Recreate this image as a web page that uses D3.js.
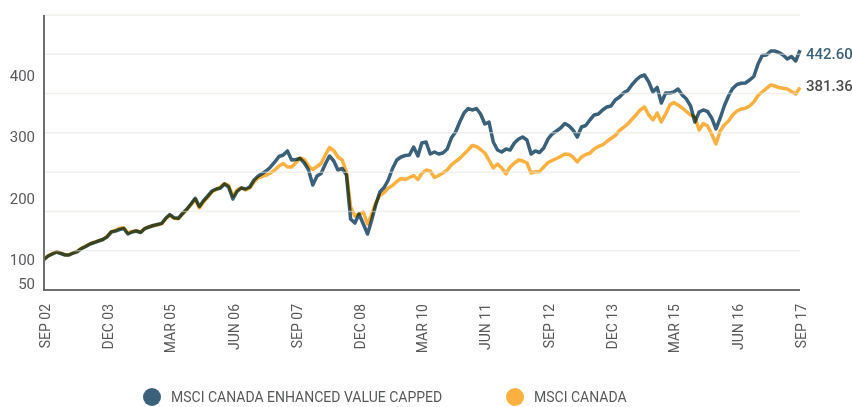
<!DOCTYPE html>
<html>
<head>
<meta charset="utf-8">
<script src="https://cdn.jsdelivr.net/npm/d3@7"></script>
<style>
  body { margin: 0; background: #fff; }
  svg { display: block; font-family: Roboto, "Noto Sans", sans-serif; }
</style>
</head>
<body>
<div class="chart"></div>
<script>
// monthly observations, Sep 2002 - Sep 2017
let months = [
  "2002-09","2002-10","2002-11","2002-12",
  "2003-01","2003-02","2003-03","2003-04","2003-05","2003-06","2003-07","2003-08","2003-09","2003-10","2003-11","2003-12",
  "2004-01","2004-02","2004-03","2004-04","2004-05","2004-06","2004-07","2004-08","2004-09","2004-10","2004-11","2004-12",
  "2005-01","2005-02","2005-03","2005-04","2005-05","2005-06","2005-07","2005-08","2005-09","2005-10","2005-11","2005-12",
  "2006-01","2006-02","2006-03","2006-04","2006-05","2006-06","2006-07","2006-08","2006-09","2006-10","2006-11","2006-12",
  "2007-01","2007-02","2007-03","2007-04","2007-05","2007-06","2007-07","2007-08","2007-09","2007-10","2007-11","2007-12",
  "2008-01","2008-02","2008-03","2008-04","2008-05","2008-06","2008-07","2008-08","2008-09","2008-10","2008-11","2008-12",
  "2009-01","2009-02","2009-03","2009-04","2009-05","2009-06","2009-07","2009-08","2009-09","2009-10","2009-11","2009-12",
  "2010-01","2010-02","2010-03","2010-04","2010-05","2010-06","2010-07","2010-08","2010-09","2010-10","2010-11","2010-12",
  "2011-01","2011-02","2011-03","2011-04","2011-05","2011-06","2011-07","2011-08","2011-09","2011-10","2011-11","2011-12",
  "2012-01","2012-02","2012-03","2012-04","2012-05","2012-06","2012-07","2012-08","2012-09","2012-10","2012-11","2012-12",
  "2013-01","2013-02","2013-03","2013-04","2013-05","2013-06","2013-07","2013-08","2013-09","2013-10","2013-11","2013-12",
  "2014-01","2014-02","2014-03","2014-04","2014-05","2014-06","2014-07","2014-08","2014-09","2014-10","2014-11","2014-12",
  "2015-01","2015-02","2015-03","2015-04","2015-05","2015-06","2015-07","2015-08","2015-09","2015-10","2015-11","2015-12",
  "2016-01","2016-02","2016-03","2016-04","2016-05","2016-06","2016-07","2016-08","2016-09","2016-10","2016-11","2016-12",
  "2017-01","2017-02","2017-03","2017-04","2017-05","2017-06","2017-07","2017-08","2017-09"
];

let enhancedValue = [
  100,105.6,108.9,112.2,109.7,107.3,107.3,110.5,113,117.9,121.2,125.3,127.7,130.2,132.6,136.7,
  144.9,146.5,149,150.6,141.6,144.9,146.5,144.1,150.6,153.1,155.5,157.2,159.1,167.8,173.5,168.1,
  167.3,175.2,182.1,190.7,200.1,186.6,196.5,203.8,212,215.3,216.4,223.5,218.5,198.9,211.2,216.9,
  215.3,218.5,230,236.5,240.6,245.5,251.3,259.5,268.5,270.9,277.5,262.7,263.5,265.2,257.8,246.4,
  221.8,236.5,240.6,256.2,269.3,261.1,246.4,248.8,238.2,166.2,159.6,174.4,158,141.6,162.9,189.1,
  210.4,217.7,230,248.8,262.7,267.6,270.1,270.9,284,269.3,290.5,292.2,272.6,275.8,272.6,274.2,
  280.7,298.7,308.5,324.9,339.6,346.9,344.6,346.9,338,321.6,324.9,292.2,279.1,275.8,280.7,279.1,
  290.5,297.1,300.4,295.5,272.6,277.5,275,282.4,297.1,305.3,310.2,315.1,322.5,318.4,311.8,300.4,
  316.7,319.2,328.2,336.4,338,344.6,349.5,351.1,360.9,365.8,372.4,376.5,385.5,393.6,399.4,401.8,
  390.4,374,381.4,356,372.4,372.4,374,378.9,369.1,362.5,351.1,324.9,341.3,344.6,342.1,331.5,
  313.5,331.5,351.1,367.5,379.8,386.3,388.3,388.7,393.6,399.4,419.8,433.7,434.5,441.1,441.1,438.6,
  434.5,428,432.1,424.7,442.6
];

let msciCanada = [
  100,105.8,109.5,112.6,110.3,107.6,107.4,110.8,113.4,118.6,122.1,125.6,128.3,130.5,132.4,137.5,
  145.2,147.6,150.8,151.9,143.3,145.8,147.1,144.6,150.9,153.4,155.2,156.8,158.4,166.9,172.6,167.2,
  166.5,174.6,181,189.6,198.4,184.2,194.3,202.1,210.8,214.6,218.2,224.1,221.3,203.2,213.4,217.4,
  213.6,216.9,226.7,233.3,235.8,238.2,241.5,246.4,252.9,257,251.3,251.3,258.6,266,263.5,252.9,
  247.2,252.1,257,270.9,283.2,278.3,267.6,262.7,243.1,185.8,171.1,174.4,177.6,158,172.7,192.4,
  204.6,209.5,216.9,221,227.5,232.5,230.8,234.1,237.4,230.8,240.6,246.4,244.7,234.1,237.4,241.5,
  246.4,254.6,260.3,265.2,272.6,279.1,286.5,284.8,279.9,274.2,262.7,249.6,256.2,249.6,239.8,251.3,
  257.8,262.7,261.1,257.8,241.5,243.6,243.6,251.3,258.6,261.9,265.2,268.5,272.6,271.7,267.6,259.5,
  267.6,271.7,273.7,280.7,284.8,287.3,293,297.9,302.8,311,315.9,321.6,329,336.4,344.6,349.5,
  336.4,328.2,339.6,324.9,338,352.7,356.8,352.7,347.8,342.1,336.4,333.1,311.8,322.5,318.4,305.3,
  288.9,310.2,320,326.6,336.4,342.9,346.2,347.3,351.1,357.6,368.3,374,379.8,385.5,383.8,381.4,
  380.1,378.9,374.8,370.7,381.36
];

let seriesNames = ["MSCI CANADA ENHANCED VALUE CAPPED", "MSCI CANADA"];
let endLabels = ["442.60", "381.36"];

let tickMonths = ["2002-09","2003-12","2005-03","2006-06","2007-09","2008-12","2010-03","2011-06","2012-09","2013-12","2015-03","2016-06","2017-09"];
let tickLabels = ["SEP 02","DEC 03","MAR 05","JUN 06","SEP 07","DEC 08","MAR 10","JUN 11","SEP 12","DEC 13","MAR 15","JUN 16","SEP 17"];
let yTicks = [50, 100, 200, 300, 400];

let width = 852,
  height = 407,
  plotLeft = 44,
  plotRight = 800,
  plotTop = 15,
  plotBottom = 290;

let colors = ["#3a6179", "#fbb040"],
  labelColors = ["#3a6179", "#4d4d4f"],
  labelShift = [4, -2],
  textColor = "#58595b";

let parseMonth = d3.timeParse("%Y-%m");
let dates = months.map(parseMonth);

let svg = d3
  .select(".chart")
  .append("svg")
  .attr("width", width)
  .attr("height", height);

let xScale = d3
  .scaleTime()
  .domain([parseMonth("2002-09"), parseMonth("2017-09")])
  .range([plotLeft, plotRight]);

let yScale = d3
  .scaleLinear()
  .domain([50, 500])
  .range([plotBottom, plotTop]);

let series = [enhancedValue, msciCanada].map(vals =>
  vals.map((v, i) => ({ date: dates[i], value: v }))
);

let line = d3
  .line()
  .x(d => xScale(d.date))
  .y(d => yScale(d.value));

// orange first, blue on top, multiplied where they overlap
svg
  .append("g")
  .selectAll("path")
  .data([series[1], series[0]])
  .enter()
  .append("path")
  .attr("d", line)
  .attr("fill", "none")
  .attr("stroke", (d, i) => (i === 0 ? colors[1] : colors[0]))
  .attr("stroke-width", 3.5)
  .attr("stroke-linejoin", "round")
  .style("mix-blend-mode", "multiply");

// faint gridlines sit over the lines
let gridScale = d3.scaleLinear().domain([0, 7]).range([plotBottom, plotTop]);
svg
  .append("g")
  .selectAll("line")
  .data(d3.range(1, 8))
  .enter()
  .append("line")
  .attr("x1", plotLeft)
  .attr("x2", plotRight)
  .attr("y1", d => gridScale(d))
  .attr("y2", d => gridScale(d))
  .attr("stroke", "#e6e1dc")
  .attr("stroke-opacity", 0.55)
  .attr("stroke-width", 1.5);

// axes
svg
  .append("path")
  .attr("d", `M${plotLeft},${plotTop}V${plotBottom}H${plotRight}`)
  .attr("fill", "none")
  .attr("stroke", "#6d6e71")
  .attr("stroke-width", 2);

svg
  .append("g")
  .selectAll("text")
  .data(yTicks)
  .enter()
  .append("text")
  .attr("x", plotLeft - 9)
  .attr("y", d => Math.min(yScale(d), plotBottom - 6))
  .attr("dy", "0.35em")
  .attr("text-anchor", "end")
  .attr("font-size", 15)
  .attr("fill", textColor)
  .text(d => d);

svg
  .append("g")
  .selectAll("text")
  .data(tickMonths)
  .enter()
  .append("text")
  .attr("transform", d => `translate(${xScale(parseMonth(d))},${plotBottom + 14}) rotate(-90)`)
  .attr("dy", "0.4em")
  .attr("text-anchor", "end")
  .attr("font-size", 14)
  .attr("fill", textColor)
  .text((d, i) => tickLabels[i]);

// end values
svg
  .append("g")
  .selectAll("text")
  .data(series)
  .enter()
  .append("text")
  .attr("x", plotRight + 6)
  .attr("y", (d, i) => yScale(d[d.length - 1].value) + labelShift[i])
  .attr("dy", "0.35em")
  .attr("font-size", 15)
  .attr("font-weight", 500)
  .attr("fill", (d, i) => labelColors[i])
  .text((d, i) => endLabels[i]);

// legend
let legendX = [152, 515];
let legend = svg
  .append("g")
  .selectAll("g")
  .data(seriesNames)
  .enter()
  .append("g")
  .attr("transform", (d, i) => `translate(${legendX[i]},397)`);

legend
  .append("circle")
  .attr("r", 9)
  .attr("fill", (d, i) => colors[i]);

legend
  .append("text")
  .attr("x", 19)
  .attr("dy", "0.35em")
  .attr("font-size", 14)
  .attr("fill", textColor)
  .text(d => d);
</script>
</body>
</html>
